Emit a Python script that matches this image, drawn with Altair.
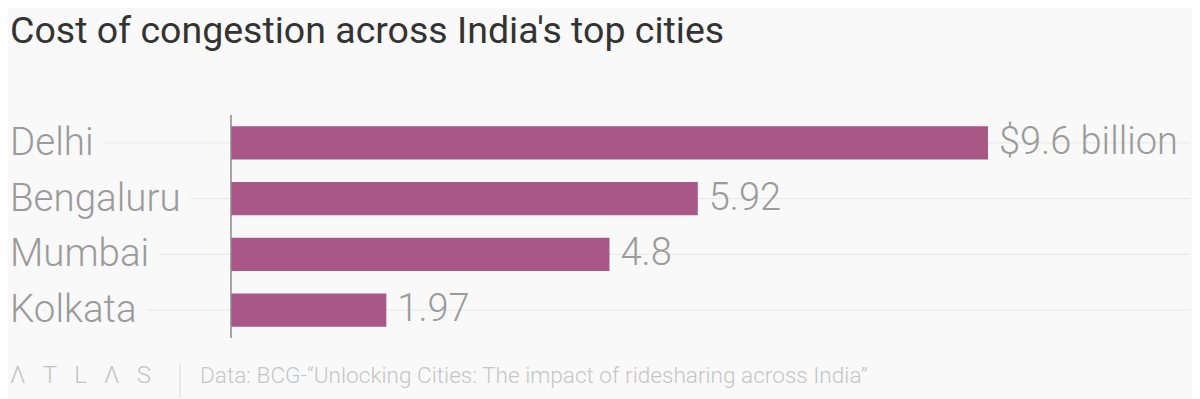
import altair as alt
import pandas as pd

cities = ["Delhi", "Bengaluru", "Mumbai", "Kolkata"]
values = [9.6, 5.92, 4.8, 1.97]
value_labels = ["$9.6 billion", "5.92", "4.8", "1.97"]

title_text = "Cost of congestion across India's top cities"
logo_text = "\u039b\u2002\u2009T\u2002\u2009L\u2002\u2009\u039b\u2002\u2009S"
source_text = "Data: BCG-\u201cUnlocking Cities: The impact of ridesharing across India\u201d"

BG = "#f9f9f9"
BAR = "#a85787"
LABEL = "#9b9b9b"
FONT = "Roboto"

df = pd.DataFrame({"city": cities, "value": values, "label": value_labels})

yenc = alt.Y("city:N", sort=cities,
             scale=alt.Scale(range=[107, 330], paddingInner=0.4, paddingOuter=0.2),
             axis=None)
xenc = alt.X("value:Q", scale=alt.Scale(domain=[0, 10], range=[223, 1011.5]), axis=None)

base = alt.Chart(df)

grid = base.mark_rule(color="#e7e7e7", strokeWidth=1).encode(
    y=yenc, x=alt.value(2), x2=alt.value(1182))

halo = base.mark_text(align="left", baseline="middle", font=FONT, fontSize=38.5, fontWeight=300,
                      fill=BG, stroke=BG, strokeWidth=26, strokeJoin="round").encode(
    y=yenc, x=alt.value(2), text="city:N")

cat_labels = base.mark_text(align="left", baseline="middle", font=FONT, fontSize=38.5, fontWeight=300,
                            color=LABEL).encode(
    y=yenc, x=alt.value(2), text="city:N")

bars = base.mark_bar(color=BAR).encode(y=yenc, x=xenc)

val_labels = base.mark_text(align="left", baseline="middle", dx=11, font=FONT, fontSize=38,
                            fontWeight=300, color=LABEL).encode(
    y=yenc, x=xenc, text="label:N")

ann = pd.DataFrame({"title": [title_text], "logo": [logo_text], "source": [source_text]})
annb = alt.Chart(ann)

axis_line = annb.mark_rule(color="#8a8a8a", strokeWidth=1.5).encode(
    x=alt.value(223), y=alt.value(107), y2=alt.value(330))

title = annb.mark_text(
    align="left", baseline="alphabetic", font=FONT, fontSize=37.5, color="#333333").encode(
    x=alt.value(2), y=alt.value(35), text="title:N")

logo = annb.mark_text(
    align="left", baseline="alphabetic", font=FONT, fontSize=24, fontWeight=300, color="#c4c4c4").encode(
    x=alt.value(2), y=alt.value(375), text="logo:N")

sep = annb.mark_rule(color="#d9d9d9").encode(
    x=alt.value(172), y=alt.value(355), y2=alt.value(389))

source = annb.mark_text(
    align="left", baseline="alphabetic", font=FONT, fontSize=22.6, fontWeight=300, color="#c6c6c6").encode(
    x=alt.value(192), y=alt.value(375), text="source:N")

chart = alt.layer(grid, halo, cat_labels, bars, axis_line, val_labels, title, logo, sep, source).properties(
    width=1184, height=391, padding=0, autosize=alt.AutoSizeParams(type="none"), background=BG
).configure_view(stroke=None)

chart.save("out.html", embed_options={"renderer": "svg", "actions": False})
